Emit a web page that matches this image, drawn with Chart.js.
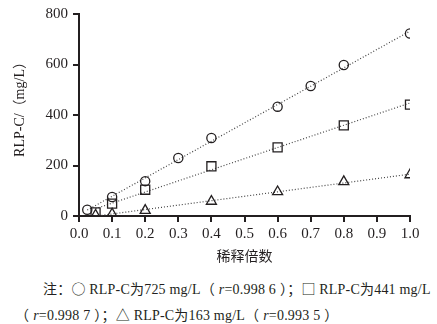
<!DOCTYPE html>
<html>
<head>
<meta charset="utf-8">
<script src="https://cdn.jsdelivr.net/npm/chart.js@4.4.1/dist/chart.umd.min.js"></script>
<style>
  html, body { margin: 0; padding: 0; background: #fff; }
  #wrap { position: relative; width: 437px; height: 324px; }
  #chart { position: absolute; left: 0; top: 0; }
  .note {
    position: absolute; white-space: nowrap; color: #231f20; letter-spacing: 0.2px;
    font-family: "Liberation Serif", serif; font-size: 14px; line-height: 16px;
  }
  .note i { font-style: italic; }
  .note b { font-weight: normal; font-family: "Noto Sans CJK SC", sans-serif; }
  .note .po { margin-right: 4px; }
  .note .pc { margin-left: 4px; }
</style>
</head>
<body>
<div id="wrap">
  <canvas id="chart" width="437" height="268"></canvas>
  <div class="note" style="left:43px; top:280px;"><b>注：○</b> RLP-C<b>为</b>725 mg/L<b class="po">（</b><i>r</i>=0.998 6<b class="pc">）；□</b> RLP-C<b>为</b>441 mg/L</div>
  <div class="note" style="left:15px; top:306px;"><b class="po">（</b><i>r</i>=0.998 7<b class="pc">）；△</b> RLP-C<b>为</b>163 mg/L<b class="po">（</b><i>r</i>=0.993 5<b class="pc">）</b></div>
</div>
<script>
// Dilution factors and measured RLP-C (mg/L)
const xCircle = [0.025, 0.1, 0.2, 0.3, 0.4, 0.6, 0.7, 0.8, 1.0];
const yCircle = [25, 75, 138, 230, 309, 433, 515, 598, 723];
const xSquare = [0.05, 0.1, 0.2, 0.4, 0.6, 0.8, 1.0];
const ySquare = [14, 49, 104, 197, 272, 359, 441];
const xTriangle = [0.05, 0.1, 0.2, 0.4, 0.6, 0.8, 1.0];
const yTriangle = [3, 8, 22, 58, 96, 136, 163];

const xTicks = [0, 0.1, 0.2, 0.3, 0.4, 0.5, 0.6, 0.7, 0.8, 0.9, 1.0];
const yTicks = [0, 200, 400, 600, 800];
const yTitle = 'RLP-C/（mg/L）';

const ink = '#231f20';

function pts(xs, ys) {
  return xs.map((x, i) => ({ x: x, y: ys[i] }));
}

// least squares fit line between first and last x
function fitLine(xs, ys) {
  const n = xs.length;
  const mx = xs.reduce((a, b) => a + b, 0) / n;
  const my = ys.reduce((a, b) => a + b, 0) / n;
  let sxy = 0, sxx = 0;
  for (let i = 0; i < n; i++) {
    sxy += (xs[i] - mx) * (ys[i] - my);
    sxx += (xs[i] - mx) * (xs[i] - mx);
  }
  const k = sxy / sxx, b = my - k * mx;
  const x0 = Math.min(...xs), x1 = Math.max(...xs);
  return [{ x: x0, y: k * x0 + b }, { x: x1, y: k * x1 + b }];
}

function trend(xs, ys) {
  return {
    type: 'line', data: fitLine(xs, ys), borderColor: '#444', borderWidth: 1.2,
    borderDash: [1, 2], pointRadius: 0, fill: false, order: 2
  };
}

function marks(xs, ys, style, r) {
  return {
    type: 'scatter', data: pts(xs, ys), pointStyle: style, pointRadius: r,
    pointBorderColor: ink, pointBackgroundColor: 'rgba(0,0,0,0)', pointBorderWidth: 1.3,
    showLine: false, order: 1
  };
}

// y axis title, drawn by hand so it can sit a bit above the middle
const yTitlePlugin = {
  id: 'yTitle',
  afterDraw(chart) {
    const c = chart.ctx;
    c.save();
    c.translate(20, 106);
    c.rotate(-Math.PI / 2);
    c.fillStyle = ink;
    c.font = '14px "Liberation Serif", "Noto Sans CJK SC"';
    c.textAlign = 'center';
    c.textBaseline = 'middle';
    c.fillText(yTitle, 0, 0);
    c.restore();
  }
};

const ctx = document.getElementById('chart').getContext('2d');

new Chart(ctx, {
  data: {
    datasets: [
      trend(xCircle, yCircle),
      trend(xSquare, ySquare),
      trend(xTriangle, yTriangle),
      marks(xCircle, yCircle, 'circle', 4.6),
      marks(xSquare, ySquare, 'rect', 6.4),
      marks(xTriangle, yTriangle, 'triangle', 5.8)
    ]
  },
  options: {
    responsive: false,
    animation: false,
    layout: { padding: { top: 13, right: 27, left: 0, bottom: 0 } },
    plugins: { legend: { display: false }, tooltip: { enabled: false } },
    scales: {
      x: {
        type: 'linear', min: 0, max: 1,
        afterBuildTicks: (s) => { s.ticks = xTicks.map(v => ({ value: v })); },
        afterFit: (s) => { s.height = 52; },
        grid: { drawOnChartArea: false, drawTicks: true, tickLength: 6, color: ink, lineWidth: 2 },
        border: { display: true, color: ink, width: 2 },
        ticks: {
          color: ink, padding: 3, maxRotation: 0,
          font: { family: 'Liberation Serif', size: 15 },
          callback: (v) => v.toFixed(1)
        },
        title: {
          display: true, text: '稀释倍数', color: ink,
          font: { family: 'Noto Sans CJK SC', size: 14 },
          padding: { top: 0, bottom: 4 }
        }
      },
      y: {
        min: 0, max: 800,
        afterBuildTicks: (s) => { s.ticks = yTicks.map(v => ({ value: v })); },
        afterFit: (s) => { s.width = 79; },
        grid: { drawOnChartArea: false, drawTicks: true, tickLength: 6, color: ink, lineWidth: 2 },
        border: { display: true, color: ink, width: 2 },
        ticks: {
          color: ink, padding: 5,
          font: { family: 'Liberation Serif', size: 15 }
        }
      }
    }
  },
  plugins: [yTitlePlugin]
});
</script>
</body>
</html>
